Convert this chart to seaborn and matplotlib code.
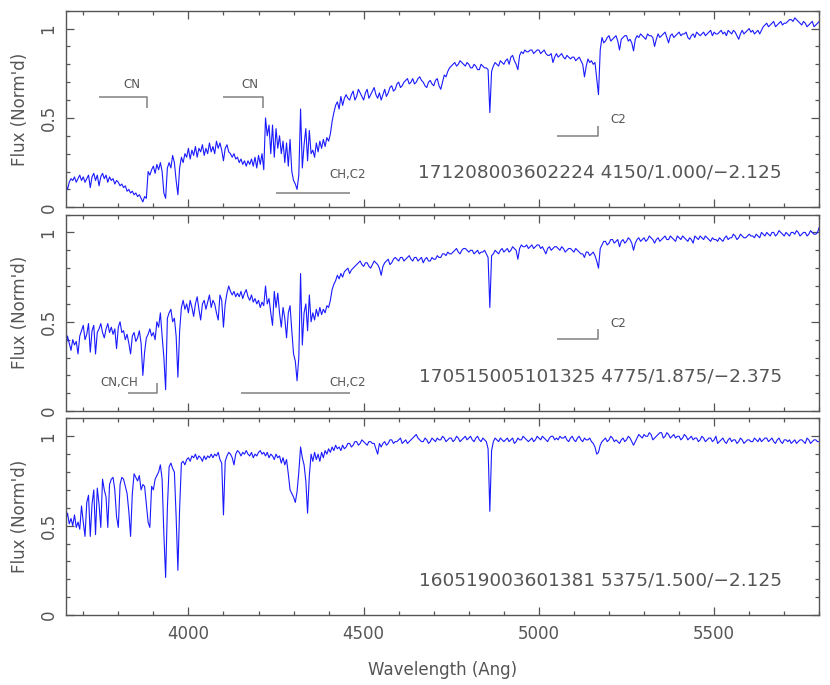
import matplotlib
matplotlib.use("Agg")
import matplotlib.pyplot as plt
from matplotlib.ticker import MultipleLocator
import pandas as pd
import seaborn as sns

# ---------------- data ----------------
wave_blue = list(range(3650, 4450, 5))      # 3650..4445, 5 A step
wave_red = list(range(4450, 5801, 10))      # 4450..5800, 10 A step
wave_red_mid = list(range(4455, 5800, 10))  # 4455..5795, in between

flux1_blue = [
    0.13, 0.10, 0.14, 0.16, 0.15, 0.17, 0.14, 0.16, 0.18, 0.15,
    0.17, 0.14, 0.16, 0.18, 0.11, 0.17, 0.19, 0.15, 0.18, 0.12,
    0.17, 0.19, 0.16, 0.18, 0.14, 0.17, 0.15, 0.16, 0.13, 0.15,
    0.14, 0.12, 0.13, 0.11, 0.12, 0.09, 0.10, 0.08, 0.09, 0.07,
    0.08, 0.06, 0.07, 0.05, 0.03, 0.06, 0.05, 0.20, 0.18, 0.21,
    0.23, 0.19, 0.24, 0.21, 0.25, 0.20, 0.08, 0.05, 0.22, 0.25,
    0.22, 0.29, 0.25, 0.15, 0.07, 0.22, 0.28, 0.25, 0.30, 0.28,
    0.33, 0.27, 0.32, 0.29, 0.34, 0.28, 0.33, 0.31, 0.35, 0.29,
    0.33, 0.30, 0.36, 0.31, 0.34, 0.30, 0.37, 0.33, 0.36, 0.32,
    0.26, 0.33, 0.35, 0.31, 0.30, 0.28, 0.30, 0.27, 0.28, 0.25,
    0.27, 0.24, 0.26, 0.23, 0.26, 0.24, 0.27, 0.23, 0.28, 0.22,
    0.29, 0.24, 0.30, 0.21, 0.50, 0.40, 0.46, 0.30, 0.46, 0.28,
    0.44, 0.33, 0.40, 0.30, 0.37, 0.25, 0.36, 0.23, 0.38, 0.20,
    0.15, 0.13, 0.10, 0.18, 0.55, 0.22, 0.35, 0.44, 0.26, 0.43,
    0.30, 0.32, 0.28, 0.36, 0.31, 0.37, 0.33, 0.38, 0.34, 0.39,
    0.37, 0.41, 0.48, 0.53, 0.57, 0.59, 0.55, 0.62, 0.57, 0.61,
]
flux1_red = [
    0.63, 0.60, 0.65, 0.62, 0.64, 0.60, 0.66, 0.63, 0.67, 0.61,
    0.60, 0.66, 0.64, 0.68, 0.66, 0.70, 0.68, 0.71, 0.69, 0.72,
    0.70, 0.73, 0.70, 0.67, 0.71, 0.68, 0.72, 0.66, 0.74, 0.76,
    0.79, 0.81, 0.80, 0.81, 0.79, 0.80, 0.78, 0.79, 0.77, 0.79,
    0.78, 0.53, 0.79, 0.80, 0.82, 0.80, 0.83, 0.84, 0.82, 0.77,
    0.87, 0.88, 0.87, 0.88, 0.87, 0.88, 0.87, 0.86, 0.85, 0.81,
    0.86, 0.85, 0.84, 0.85, 0.83, 0.84, 0.83, 0.82, 0.73, 0.83,
    0.82, 0.81, 0.63, 0.95, 0.93, 0.96, 0.94, 0.96, 0.88, 0.95,
    0.96, 0.94, 0.875, 0.96, 0.97, 0.95, 0.97, 0.96, 0.90, 0.97,
    0.96, 0.98, 0.92, 0.97, 0.96, 0.98, 0.97, 0.98, 0.94, 0.97,
    0.98, 0.96, 0.98, 0.97, 0.99, 0.98, 0.97, 0.99, 0.98, 0.99,
    0.97, 0.98, 0.94, 0.99, 0.98, 1.00, 0.99, 0.98, 0.97, 1.01,
    1.03, 1.02, 1.04, 1.02, 1.04, 1.03, 1.04, 1.05, 1.06, 1.04,
    1.02, 1.03, 1.02, 1.04, 1.02, 1.04,
]
flux1_red_mid = [
    0.61, 0.63, 0.60, 0.66, 0.62, 0.64, 0.61, 0.65, 0.63, 0.64,
    0.63, 0.62, 0.67, 0.65, 0.69, 0.67, 0.70, 0.72, 0.70, 0.69,
    0.72, 0.71, 0.68, 0.70, 0.69, 0.71, 0.68, 0.70, 0.73, 0.78,
    0.80, 0.79, 0.82, 0.80, 0.81, 0.78, 0.80, 0.77, 0.80, 0.78,
    0.77, 0.76, 0.81, 0.79, 0.81, 0.82, 0.80, 0.85, 0.80, 0.85,
    0.86, 0.87, 0.88, 0.86, 0.88, 0.86, 0.88, 0.85, 0.86, 0.84,
    0.84, 0.86, 0.83, 0.84, 0.84, 0.82, 0.84, 0.80, 0.79, 0.81,
    0.80, 0.72, 0.88, 0.92, 0.95, 0.93, 0.95, 0.93, 0.94, 0.96,
    0.93, 0.92, 0.94, 0.95, 0.96, 0.94, 0.96, 0.95, 0.94, 0.95,
    0.97, 0.95, 0.96, 0.95, 0.97, 0.96, 0.97, 0.95, 0.96, 0.95,
    0.97, 0.97, 0.96, 0.98, 0.96, 0.97, 0.98, 0.97, 0.96, 0.98,
    0.99, 0.96, 0.97, 0.97, 0.99, 0.98, 0.97, 0.99, 0.99, 1.02,
    1.01, 1.03, 1.01, 1.03, 1.02, 1.03, 1.05, 1.04, 1.05, 1.03,
    1.04, 1.01, 1.03, 1.01, 1.03,
]

flux2_blue = [
    0.35, 0.42, 0.38, 0.34, 0.40, 0.37, 0.39, 0.32, 0.42, 0.45,
    0.48, 0.40, 0.43, 0.49, 0.33, 0.45, 0.48, 0.32, 0.44, 0.46,
    0.49, 0.44, 0.41, 0.46, 0.49, 0.44, 0.47, 0.43, 0.46, 0.35,
    0.47, 0.50, 0.44, 0.45, 0.40, 0.43, 0.38, 0.32, 0.42, 0.44,
    0.39, 0.41, 0.45, 0.38, 0.20, 0.33, 0.41, 0.43, 0.46, 0.42,
    0.44, 0.40, 0.50, 0.47, 0.55, 0.42, 0.30, 0.12, 0.52, 0.55,
    0.57, 0.50, 0.52, 0.42, 0.19, 0.45, 0.58, 0.62, 0.57, 0.60,
    0.55, 0.62, 0.58, 0.53, 0.60, 0.64, 0.57, 0.51, 0.60, 0.62,
    0.57, 0.61, 0.65, 0.58, 0.62, 0.60, 0.55, 0.51, 0.65, 0.62,
    0.47, 0.60, 0.66, 0.70, 0.67, 0.65, 0.67, 0.64, 0.66, 0.64,
    0.67, 0.63, 0.66, 0.68, 0.64, 0.62, 0.65, 0.61, 0.63, 0.60,
    0.62, 0.58, 0.61, 0.59, 0.70, 0.60, 0.63, 0.55, 0.48, 0.67,
    0.58, 0.66, 0.55, 0.47, 0.58, 0.52, 0.41, 0.55, 0.59, 0.45,
    0.32, 0.28, 0.17, 0.30, 0.77, 0.37, 0.55, 0.60, 0.45, 0.65,
    0.50, 0.55, 0.51, 0.57, 0.53, 0.58, 0.54, 0.57, 0.55, 0.59,
    0.58, 0.62, 0.68, 0.71, 0.73, 0.76, 0.74, 0.77, 0.75, 0.78,
]
flux2_red = [
    0.79, 0.77, 0.80, 0.82, 0.84, 0.81, 0.83, 0.80, 0.84, 0.82,
    0.76, 0.83, 0.85, 0.83, 0.86, 0.84, 0.86, 0.85, 0.87, 0.84,
    0.86, 0.85, 0.83, 0.86, 0.84, 0.85, 0.87, 0.86, 0.88, 0.89,
    0.88, 0.90, 0.89, 0.90, 0.91, 0.89, 0.90, 0.89, 0.88, 0.89,
    0.88, 0.58, 0.88, 0.89, 0.90, 0.89, 0.91, 0.90, 0.91, 0.85,
    0.93, 0.92, 0.91, 0.93, 0.92, 0.93, 0.92, 0.88, 0.92, 0.91,
    0.92, 0.90, 0.91, 0.90, 0.91, 0.89, 0.90, 0.88, 0.86, 0.89,
    0.88, 0.87, 0.80, 0.93, 0.95, 0.94, 0.96, 0.95, 0.92, 0.96,
    0.95, 0.96, 0.90, 0.96, 0.95, 0.97, 0.96, 0.97, 0.94, 0.97,
    0.96, 0.98, 0.96, 0.97, 0.95, 0.97, 0.98, 0.96, 0.97, 0.94,
    0.97, 0.98, 0.96, 0.97, 0.95, 0.96, 0.95, 0.96, 0.97, 0.96,
    0.97, 0.98, 0.97, 0.98, 0.97, 0.99, 0.98, 0.99, 0.97, 0.99,
    1.00, 0.98, 1.00, 0.99, 1.00, 0.98, 0.99, 1.00, 0.99, 1.00,
    0.99, 1.00, 0.99, 1.00, 0.99, 1.03,
]
flux2_red_mid = [
    0.80, 0.79, 0.81, 0.83, 0.82, 0.83, 0.81, 0.82, 0.83, 0.80,
    0.81, 0.84, 0.82, 0.85, 0.85, 0.86, 0.84, 0.86, 0.85, 0.86,
    0.84, 0.86, 0.85, 0.84, 0.86, 0.85, 0.86, 0.88, 0.87, 0.88,
    0.89, 0.91, 0.88, 0.91, 0.90, 0.90, 0.88, 0.90, 0.89, 0.90,
    0.86, 0.87, 0.90, 0.88, 0.91, 0.90, 0.89, 0.92, 0.90, 0.91,
    0.92, 0.93, 0.92, 0.91, 0.93, 0.91, 0.90, 0.91, 0.90, 0.92,
    0.91, 0.92, 0.89, 0.91, 0.90, 0.91, 0.89, 0.88, 0.89, 0.87,
    0.89, 0.84, 0.91, 0.95, 0.93, 0.96, 0.94, 0.96, 0.95, 0.94,
    0.97, 0.94, 0.94, 0.97, 0.96, 0.95, 0.98, 0.96, 0.96, 0.95,
    0.97, 0.96, 0.98, 0.96, 0.98, 0.96, 0.97, 0.95, 0.96, 0.98,
    0.96, 0.97, 0.98, 0.96, 0.97, 0.96, 0.97, 0.95, 0.98, 0.97,
    0.99, 0.96, 0.99, 0.97, 0.98, 0.98, 0.97, 0.98, 1.00, 0.98,
    0.99, 1.00, 0.98, 1.01, 0.99, 1.00, 0.98, 1.00, 1.01, 0.98,
    1.00, 0.98, 1.01, 0.99, 1.00,
]

flux3_blue = [
    0.53, 0.57, 0.51, 0.54, 0.50, 0.56, 0.49, 0.52, 0.48, 0.61,
    0.52, 0.44, 0.63, 0.67, 0.44, 0.62, 0.70, 0.45, 0.71, 0.62,
    0.49, 0.76, 0.70, 0.66, 0.49, 0.73, 0.76, 0.77, 0.70, 0.55,
    0.49, 0.73, 0.77, 0.76, 0.72, 0.68, 0.58, 0.44, 0.68, 0.79,
    0.77, 0.75, 0.78, 0.70, 0.73, 0.72, 0.62, 0.52, 0.49, 0.72,
    0.70, 0.76, 0.78, 0.80, 0.84, 0.76, 0.45, 0.21, 0.60, 0.83,
    0.85, 0.82, 0.80, 0.55, 0.25, 0.60, 0.85, 0.86, 0.84, 0.87,
    0.88, 0.86, 0.89, 0.88, 0.90, 0.87, 0.89, 0.88, 0.86, 0.89,
    0.87, 0.89, 0.88, 0.90, 0.88, 0.90, 0.89, 0.91, 0.87, 0.85,
    0.56, 0.86, 0.89, 0.91, 0.90, 0.88, 0.84, 0.90, 0.92, 0.91,
    0.89, 0.91, 0.90, 0.92, 0.90, 0.89, 0.91, 0.88, 0.90, 0.89,
    0.91, 0.92, 0.90, 0.91, 0.89, 0.91, 0.88, 0.90, 0.89, 0.87,
    0.90, 0.88, 0.89, 0.85, 0.88, 0.84, 0.87, 0.79, 0.70, 0.68,
    0.66, 0.63, 0.69, 0.80, 0.94, 0.88, 0.84, 0.75, 0.57, 0.78,
    0.90, 0.86, 0.91, 0.87, 0.90, 0.86, 0.91, 0.88, 0.92, 0.90,
    0.93, 0.91, 0.94, 0.92, 0.95, 0.93, 0.94, 0.92, 0.95, 0.93,
]
flux3_red = [
    0.94, 0.96, 0.95, 0.97, 0.96, 0.97, 0.95, 0.97, 0.96, 0.90,
    0.94, 0.97, 0.96, 0.98, 0.97, 0.98, 0.96, 0.98, 0.97, 0.99,
    1.01, 0.98, 0.97, 0.98, 0.97, 0.98, 0.99, 0.98, 0.99, 0.98,
    0.99, 0.98, 0.99, 0.98, 1.00, 0.99, 0.98, 0.99, 0.98, 0.99,
    0.97, 0.58, 0.97, 0.98, 0.99, 0.97, 0.99, 0.98, 0.96, 0.99,
    0.98, 0.99, 0.97, 0.99, 0.98, 0.99, 1.00, 0.98, 0.99, 1.00,
    0.99, 1.00, 0.99, 0.98, 0.99, 0.98, 0.99, 0.98, 0.99, 0.98,
    0.97, 0.94, 0.91, 0.97, 0.99, 0.98, 0.99, 0.98, 0.96, 0.99,
    0.98, 0.99, 0.95, 0.99, 1.00, 1.01, 1.00, 1.01, 0.99, 1.01,
    1.02, 1.00, 1.01, 1.00, 0.99, 1.00, 0.99, 1.00, 0.99, 0.98,
    0.99, 0.98, 0.99, 0.98, 0.99, 0.98, 0.96, 0.98, 0.97, 0.98,
    0.97, 0.98, 0.97, 0.98, 0.97, 0.98, 0.97, 0.98, 0.99, 0.98,
    0.99, 0.98, 0.97, 0.98, 0.97, 0.98, 0.97, 0.96, 0.98, 0.97,
    0.98, 0.96, 0.98, 0.97, 0.98, 0.97,
]
flux3_red_mid = [
    0.96, 0.94, 0.97, 0.95, 0.98, 0.96, 0.97, 0.96, 0.93, 0.96,
    0.96, 0.95, 0.98, 0.96, 0.97, 0.99, 0.97, 0.96, 0.98, 1.00,
    0.99, 0.97, 0.99, 0.96, 0.99, 0.97, 0.98, 1.00, 0.97, 0.99,
    0.97, 1.00, 0.97, 0.99, 0.98, 1.00, 0.97, 1.00, 0.97, 0.98,
    0.93, 0.92, 0.99, 0.97, 0.98, 0.98, 0.97, 0.99, 0.97, 0.98,
    1.00, 0.98, 0.98, 0.97, 1.00, 0.98, 0.99, 0.97, 1.00, 0.98,
    0.98, 0.99, 1.00, 0.97, 1.00, 0.97, 1.00, 0.97, 0.98, 0.99,
    0.96, 0.90, 0.95, 0.98, 0.97, 1.00, 0.97, 0.97, 0.98, 0.97,
    1.00, 0.97, 0.97, 1.01, 0.99, 1.00, 1.02, 0.98, 1.00, 1.02,
    0.99, 1.02, 0.99, 1.01, 1.00, 0.98, 1.01, 0.98, 1.00, 0.99,
    0.97, 1.00, 0.97, 0.99, 0.97, 1.00, 0.97, 0.99, 0.96, 0.99,
    0.98, 0.96, 0.99, 0.96, 0.98, 0.97, 0.99, 0.97, 0.97, 0.99,
    0.97, 0.99, 0.96, 0.99, 0.96, 0.98, 0.98, 0.97, 0.96, 0.98,
    0.97, 0.99, 0.96, 0.98, 0.97,
]

star_labels = [
    "171208003602224 4150/1.000/\u22122.125",
    "170515005101325 4775/1.875/\u22122.375",
    "160519003601381 5375/1.500/\u22122.125",
]
panels = [
    (flux1_blue, flux1_red, flux1_red_mid),
    (flux2_blue, flux2_red, flux2_red_mid),
    (flux3_blue, flux3_red, flux3_red_mid),
]


def panel_frame(blue, red, mid):
    parts = []
    for w, f in ((wave_blue, blue), (wave_red, red), (wave_red_mid, mid)):
        n = min(len(w), len(f))
        parts.append(pd.DataFrame({"wave": w[:n], "flux": f[:n]}))
    return pd.concat(parts).sort_values("wave").reset_index(drop=True)


# ---------------- style ----------------
sns.set_theme(style="ticks")
GRAY = "#555555"
LGRAY = "#808080"
BLUE = "#1a1aff"
plt.rcParams.update({
    "font.family": ["DejaVu Sans"],
    "axes.edgecolor": GRAY,
    "axes.linewidth": 1.0,
    "xtick.color": GRAY,
    "ytick.color": GRAY,
    "xtick.labelcolor": GRAY,
    "ytick.labelcolor": GRAY,
    "text.color": GRAY,
    "axes.labelcolor": GRAY,
})

fig = plt.figure(figsize=(8.3, 6.85), dpi=100)
gs = fig.add_gridspec(3, 1, left=0.0792, right=0.9871, top=0.9844,
                      bottom=0.1022, hspace=0.037)
axes = [fig.add_subplot(gs[i]) for i in range(3)]

for i, ax in enumerate(axes):
    df = panel_frame(*panels[i])
    sns.lineplot(data=df, x="wave", y="flux", ax=ax, color=BLUE,
                 linewidth=0.8, estimator=None, sort=False)
    ax.set_xlim(3650, 5800)
    ax.set_ylim(0, 1.1)
    ax.xaxis.set_major_locator(MultipleLocator(500))
    ax.xaxis.set_minor_locator(MultipleLocator(100))
    ax.yaxis.set_major_locator(MultipleLocator(0.5))
    ax.yaxis.set_minor_locator(MultipleLocator(0.1))
    ax.yaxis.set_major_formatter(plt.FuncFormatter(lambda v, p: f"{v:g}"))
    ax.tick_params(which="both", direction="in", top=True, right=True,
                   color=GRAY, width=0.9)
    ax.tick_params(which="major", length=6)
    ax.tick_params(which="minor", length=3)
    ax.tick_params(axis="y", which="major", labelsize=12, labelrotation=90, pad=6)
    ax.tick_params(axis="x", which="major", labelsize=12, pad=7.5)
    for lab in ax.get_yticklabels():
        lab.set_va("center")
    ax.set_ylabel("Flux (Norm'd)", fontsize=12)
    ax.yaxis.set_label_coords(-0.049, 0.5)
    if i < 2:
        ax.tick_params(axis="x", labelbottom=False)
        ax.set_xlabel("")
    else:
        ax.set_xlabel("Wavelength (Ang)", fontsize=12)
        ax.xaxis.set_label_coords(0.5, -0.236)
    ax.text(5693, 0.193, star_labels[i], ha="right", va="center", fontsize=13.3,
            color=GRAY)
    for s in ax.spines.values():
        s.set_visible(True)

ann_kw = dict(color=LGRAY, linewidth=1.1, solid_capstyle="butt")
small = dict(fontsize=8.5, color=GRAY, ha="center", va="center")

# panel 1 annotations
a = axes[0]
a.plot([3745, 3881, 3881], [0.617, 0.617, 0.556], **ann_kw)
a.text(3839, 0.688, "CN", **small)
a.plot([4100, 4214, 4214], [0.617, 0.617, 0.556], **ann_kw)
a.text(4175, 0.688, "CN", **small)
a.plot([4251, 4460], [0.080, 0.080], **ann_kw)
a.text(4453, 0.183, "CH,C2", **small)
a.plot([5053, 5168, 5168], [0.401, 0.401, 0.457], **ann_kw)
a.text(5225, 0.49, "C2", **small)

# panel 2 annotations
a = axes[1]
a.plot([3829, 3910, 3910], [0.100, 0.100, 0.155], **ann_kw)
a.text(3802, 0.158, "CN,CH", **small)
a.plot([4150, 4460], [0.099, 0.099], **ann_kw)
a.text(4453, 0.162, "CH,C2", **small)
a.plot([5053, 5168, 5168], [0.401, 0.401, 0.457], **ann_kw)
a.text(5225, 0.49, "C2", **small)

fig.savefig("out.png", dpi=100)
